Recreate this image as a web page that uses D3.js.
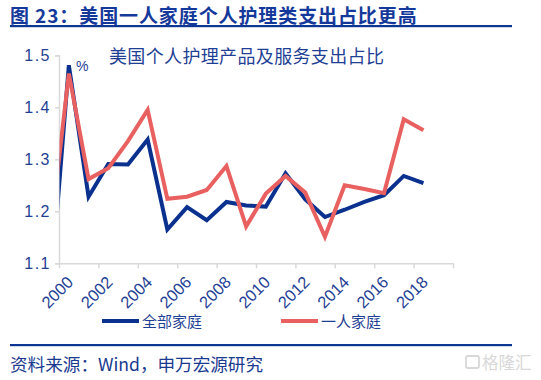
<!DOCTYPE html>
<html><head><meta charset="utf-8">
<script src="https://cdn.jsdelivr.net/npm/d3@7"></script>
<style>
body{margin:0;background:#fff;}
svg{display:block;}
</style></head>
<body>
<svg id="c" width="541" height="380"></svg>
<script>
const years = [1999,2000,2001,2002,2003,2004,2005,2006,2007,2008,2009,2010,2011,2012,2013,2014,2015,2016,2017,2018];
const allHouseholds = [1.013,1.481,1.228,1.291,1.290,1.338,1.165,1.208,1.183,1.218,1.211,1.209,1.273,1.223,1.189,1.203,1.218,1.231,1.268,1.254];
const singleHouseholds = [1.135,1.465,1.262,1.283,1.335,1.395,1.224,1.228,1.241,1.287,1.171,1.234,1.268,1.236,1.151,1.250,1.243,1.235,1.377,1.356];
const seriesNames = ["全部家庭","一人家庭"];
const yTicks = [1.1,1.2,1.3,1.4,1.5];
const xLabelYears = [2000,2002,2004,2006,2008,2010,2012,2014,2016,2018];
const titleText = "图 23：美国一人家庭个人护理类支出占比更高";
const subtitleText = "美国个人护理产品及服务支出占比";
const unitText = "%";
const sourceText = "资料来源：Wind，申万宏源研究";

const navy = "#0b318f", red = "#e8605f", textBlue = "#1f3f95", axisGray = "#d9d9d9";
const svg = d3.select("#c");
const cjk = "'Noto Sans CJK SC','Noto Sans',sans-serif";
const latin = "'Liberation Sans','Noto Sans CJK SC',sans-serif";

// title
svg.append("text").attr("x",10).attr("y",22.5).text(titleText)
  .attr("font-family",cjk).attr("font-weight","bold").attr("font-size",19).attr("letter-spacing","0.9px").attr("fill","#15399a");
svg.append("rect").attr("x",10).attr("y",25).attr("width",502).attr("height",2.2).attr("fill","#0d3592");
svg.append("rect").attr("x",10).attr("y",344).attr("width",502).attr("height",2.2).attr("fill","#0d3592");
svg.append("text").attr("x",10).attr("y",371).text(sourceText)
  .attr("font-family",cjk).attr("font-size",17.6).attr("fill","#1a3a8f");

// watermark
const wm = svg.append("g").attr("opacity",0.45);
wm.append("rect").attr("x",466).attr("y",356).attr("width",13).attr("height",12).attr("rx",2)
  .attr("fill","none").attr("stroke","#aaa").attr("stroke-width",1.8);
wm.append("text").attr("x",482).attr("y",369).text("格隆汇")
  .attr("font-family",cjk).attr("font-size",16.5).attr("fill","#aaa");

// scales
const x = d3.scaleLinear().domain([1999.5,2019.5]).range([59,453]);
const y = d3.scaleLinear().domain([1.1,1.5]).range([263.3,55.3]);

// y axis
const ya = svg.append("g").attr("transform","translate(59,0)")
  .call(d3.axisLeft(y).tickValues(yTicks).tickFormat(d3.format(".1f")).tickSize(4).tickPadding(4));
ya.select(".domain").attr("stroke",axisGray).attr("stroke-width",1.5);
ya.selectAll(".tick line").attr("stroke",axisGray).attr("stroke-width",1.5);
ya.selectAll(".tick text").attr("font-family",latin).attr("font-size",16).attr("fill",textBlue).attr("letter-spacing","1.5px");

// x axis ticks
const xt = [];
for (let i = 0; i <= 10; i++) xt.push(1999.5 + 2*i);
const xa = svg.append("g").attr("transform","translate(0,263.3)")
  .call(d3.axisBottom(x).tickValues(xt).tickFormat("").tickSize(5).tickSizeOuter(0));
xa.select(".domain").attr("stroke",axisGray).attr("stroke-width",1.5);
xa.selectAll(".tick line").attr("stroke",axisGray).attr("stroke-width",1.5);

const xl = svg.append("g").attr("transform","translate(0,263.3)")
  .call(d3.axisBottom(x).tickValues(xLabelYears).tickFormat(d3.format("d")).tickSize(0));
xl.select(".domain").remove();
xl.selectAll(".tick text")
  .attr("font-family",latin).attr("font-size",16.5).attr("fill",textBlue)
  .attr("text-anchor","end").attr("dy",0).attr("y",0)
  .attr("transform","translate(5,20) rotate(-45)");

// clip
svg.append("defs").append("clipPath").attr("id","clip")
  .append("rect").attr("x",59.5).attr("y",40).attr("width",400).attr("height",230);

const line = d3.line().x((d,i)=>x(years[i])).y(d=>y(d));
const plot = svg.append("g").attr("clip-path","url(#clip)");
plot.append("path").datum(allHouseholds).attr("d",line).attr("fill","none")
  .attr("stroke",navy).attr("stroke-width",4);
plot.append("path").datum(singleHouseholds).attr("d",line).attr("fill","none")
  .attr("stroke",red).attr("stroke-width",4);

// subtitle and unit
svg.append("text").attr("x",109).attr("y",63).text(subtitleText)
  .attr("font-family",cjk).attr("font-size",18).attr("letter-spacing","0.35px").attr("fill","#1f3f95");
svg.append("text").attr("x",76).attr("y",71).text(unitText)
  .attr("font-family",latin).attr("font-size",14).attr("fill",textBlue);

// legend
const leg = [{name:seriesNames[0],color:navy,x:102},{name:seriesNames[1],color:red,x:281}];
leg.forEach(l=>{
  svg.append("line").attr("x1",l.x).attr("x2",l.x+37).attr("y1",321).attr("y2",321)
    .attr("stroke",l.color).attr("stroke-width",4);
  svg.append("text").attr("x",l.x+40).attr("y",326.5).text(l.name)
    .attr("font-family",cjk).attr("font-size",15).attr("fill",textBlue);
});
</script>
</body></html>
